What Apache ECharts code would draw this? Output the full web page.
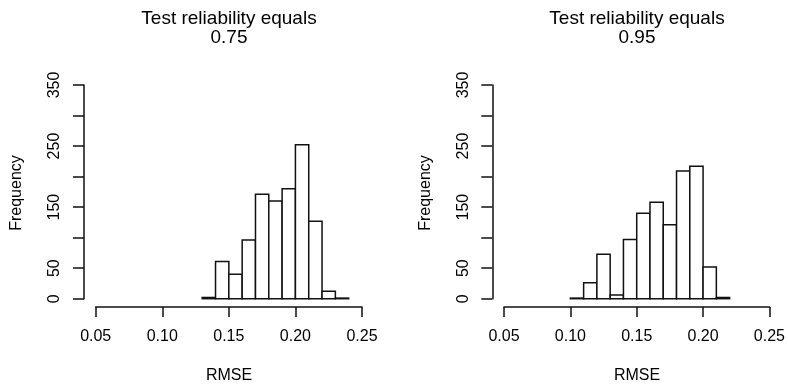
<!DOCTYPE html>
<html>
<head>
<meta charset="utf-8">
<script src="https://cdn.jsdelivr.net/npm/echarts@6/dist/echarts.min.js"></script>
<style>html,body{margin:0;padding:0;background:#fff}#c{width:788px;height:387px}</style>
</head>
<body>
<div id="c"></div>
<script>
// Histogram data
var binWidth = 0.01;
var leftStart = 0.13;
var leftCounts = [2, 61, 40, 96, 171, 160, 180, 252, 127, 12, 1];
var rightStart = 0.10;
var rightCounts = [1, 26, 73, 6, 97, 140, 158, 121, 209, 217, 52, 2];
var xTicks = [0.05, 0.10, 0.15, 0.20, 0.25];
var yTicks = [0, 50, 100, 150, 200, 250, 300, 350];
var titles = ['Test reliability equals', 'Test reliability equals'];
var subtitles = ['0.75', '0.95'];
var xName = 'RMSE';
var yName = 'Frequency';

var FONT = '"Liberation Sans", Arial, Helvetica, sans-serif';

function toBins(start, counts) {
  return counts.map(function (c, i) {
    var a = +(start + i * binWidth).toFixed(4);
    var b = +(start + (i + 1) * binWidth).toFixed(4);
    return [a, b, c];
  });
}

function renderItem(params, api) {
  var p0 = api.coord([api.value(0), 0]);
  var p1 = api.coord([api.value(1), api.value(2)]);
  return {
    type: 'rect',
    shape: { x: p0[0], y: p1[1], width: p1[0] - p0[0], height: p0[1] - p1[1] },
    style: { fill: '#fff', stroke: '#111', lineWidth: 1.5 }
  };
}

var gridLefts = [95.7, 504];
var centers = [229, 637];
var yNameX = [17, 426];

function xAxis(i) {
  return {
    type: 'value', gridIndex: i, min: xTicks[0], max: xTicks[xTicks.length - 1], interval: 0.05,
    position: 'bottom', offset: 8.3,
    axisLine: { show: true, onZero: false, lineStyle: { color: '#111', width: 1.5 } },
    axisTick: { show: true, length: 10, lineStyle: { color: '#111', width: 1.5 } },
    axisLabel: { fontSize: 16, color: '#000', fontFamily: FONT, margin: 22,
      formatter: function (v) { return v.toFixed(2); } },
    splitLine: { show: false }
  };
}
function yAxis(i) {
  return {
    type: 'value', gridIndex: i, min: yTicks[0], max: yTicks[yTicks.length - 1], interval: 50,
    position: 'left', offset: 11.7,
    axisLine: { show: true, onZero: false, lineStyle: { color: '#111', width: 1.5 } },
    axisTick: { show: true, length: 11, lineStyle: { color: '#111', width: 1.5 } },
    axisLabel: { fontSize: 16, color: '#000', fontFamily: FONT, margin: 21, rotate: 90,
      formatter: function (v) { return (v % 100 === 0 && v !== 0) ? '' : String(v); } },
    splitLine: { show: false }
  };
}

var graphics = [];
for (var i = 0; i < 2; i++) {
  graphics.push({ type: 'text', x: centers[i], y: 19, style: { text: titles[i], font: '19px ' + FONT, fill: '#000', align: 'center', verticalAlign: 'middle' } });
  graphics.push({ type: 'text', x: centers[i], y: 38, style: { text: subtitles[i], font: '19px ' + FONT, fill: '#000', align: 'center', verticalAlign: 'middle' } });
  graphics.push({ type: 'text', x: centers[i], y: 376, style: { text: xName, font: '16px ' + FONT, fill: '#000', align: 'center', verticalAlign: 'middle' } });
  graphics.push({ type: 'text', x: yNameX[i], y: 193, rotation: Math.PI / 2, style: { text: yName, font: '16px ' + FONT, fill: '#000', align: 'center', verticalAlign: 'middle' } });
}

var chart = echarts.init(document.getElementById('c'), null, { renderer: 'canvas' });
chart.setOption({
  backgroundColor: '#fff',
  animation: false,
  grid: [
    { left: gridLefts[0], top: 85, width: 266.3, height: 213.7 },
    { left: gridLefts[1], top: 85, width: 266.7, height: 213.7 }
  ],
  xAxis: [xAxis(0), xAxis(1)],
  yAxis: [yAxis(0), yAxis(1)],
  graphic: graphics,
  series: [
    { type: 'custom', xAxisIndex: 0, yAxisIndex: 0, renderItem: renderItem, data: toBins(leftStart, leftCounts), clip: false },
    { type: 'custom', xAxisIndex: 1, yAxisIndex: 1, renderItem: renderItem, data: toBins(rightStart, rightCounts), clip: false }
  ]
});
</script>
</body>
</html>
